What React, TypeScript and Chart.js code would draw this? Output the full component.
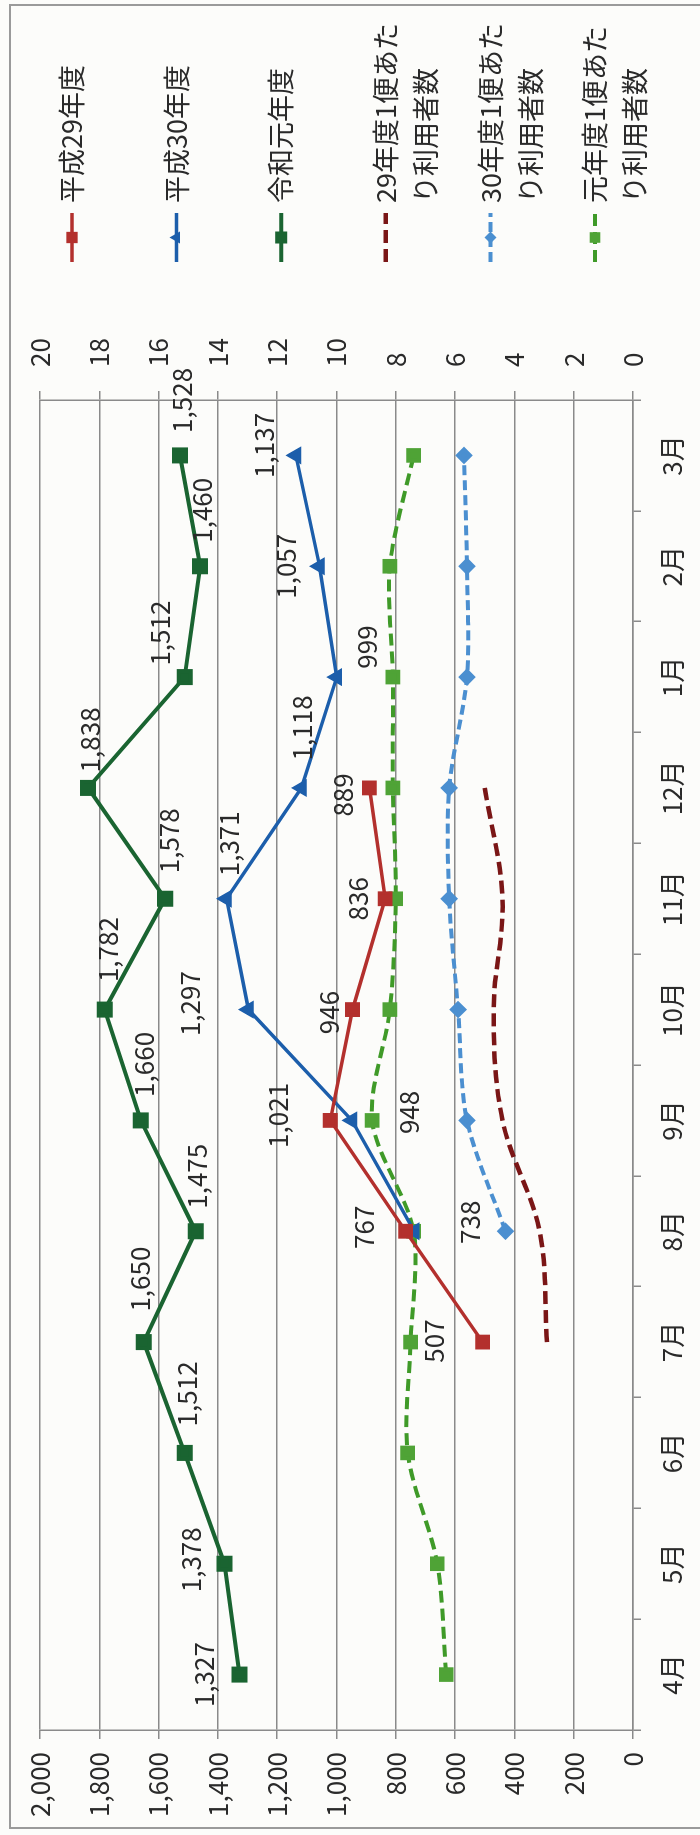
import React, { useEffect, useRef } from "react";
import { Chart, registerables } from "chart.js";

Chart.register(...registerables);

// ---------- data ----------
const months = ["4月", "5月", "6月", "7月", "8月", "9月", "10月", "11月", "12月", "1月", "2月", "3月"];

const seriesNames = [
  "平成29年度",
  "平成30年度",
  "令和元年度",
  "29年度1便あたり利用者数",
  "30年度1便あたり利用者数",
  "元年度1便あたり利用者数",
];

const usersH29 = [null, null, null, 507, 767, 1021, 946, 836, 889, null, null, null];
const usersH30 = [null, null, null, null, 738, 948, 1297, 1371, 1118, 999, 1057, 1137];
const usersR1 = [1327, 1378, 1512, 1650, 1475, 1660, 1782, 1578, 1838, 1512, 1460, 1528];

const perTripH29 = [null, null, null, 2.9, 3.15, 4.4, 4.7, 4.4, 5.0, null, null, null];
const perTripH30 = [null, null, null, null, 4.3, 5.6, 5.9, 6.2, 6.2, 5.6, 5.6, 5.7];
const perTripR1 = [6.3, 6.6, 7.6, 7.5, 7.4, 8.8, 8.2, 8.0, 8.1, 8.1, 8.2, 7.4];

const leftAxis = { min: 0, max: 2000, step: 200 };
const rightAxis = { min: 0, max: 20, step: 2 };

// ---------- styling ----------
const FONT = '"Noto Sans CJK JP", "Noto Sans", sans-serif';
const GRID = "#8a8a8a";
const TEXT = "#2a2a2a";

// label offsets (original, unrotated orientation) relative to each point
const labelOffsets: Record<number, (number[] | null)[]> = {
  0: [null, null, null, [1, -49], [4, -41], [5, -52], [-3, -23], [0, -27], [-7, -26], null, null, null],
  1: [null, null, null, null, [9, 56], [8, 57], [6, -58], [55, 3], [60, 1], [30, 30], [0, -33], [10, -32]],
  2: [[0, -35], [4, -33], [59, 2], [63, -4], [55, 1], [56, 3], [60, 3], [58, 4], [48, 2], [44, -25], [56, 2], [55, 2]],
};

const W = 1835;
const H = 700;

function drawMarker(ctx: CanvasRenderingContext2D, style: string, x: number, y: number, r: number, color: string) {
  ctx.save();
  ctx.fillStyle = color;
  ctx.beginPath();
  if (style === "rect") {
    const s = r * Math.SQRT1_2;
    ctx.rect(x - s, y - s, 2 * s, 2 * s);
  } else if (style === "rectRot") {
    ctx.moveTo(x, y - r);
    ctx.lineTo(x + r, y);
    ctx.lineTo(x, y + r);
    ctx.lineTo(x - r, y);
    ctx.closePath();
  } else if (style === "triangle") {
    ctx.moveTo(x, y - r);
    ctx.lineTo(x + r * 0.866, y + r * 0.5);
    ctx.lineTo(x - r * 0.866, y + r * 0.5);
    ctx.closePath();
  }
  ctx.fill();
  ctx.restore();
}

const dataLabelPlugin = {
  id: "dataLabelsCustom",
  afterDatasetsDraw(chart: any) {
    const ctx = chart.ctx as CanvasRenderingContext2D;
    ctx.save();
    ctx.font = `26px ${FONT}`;
    ctx.fillStyle = TEXT;
    ctx.textAlign = "center";
    ctx.textBaseline = "middle";
    chart.data.datasets.forEach((ds: any, di: number) => {
      const offs = labelOffsets[di];
      if (!offs) return;
      const meta = chart.getDatasetMeta(di);
      meta.data.forEach((pt: any, i: number) => {
        const v = ds.data[i];
        if (v == null) return;
        const o = offs[i] || [0, -35];
        ctx.fillText(Number(v).toLocaleString("en-US"), pt.x + o[0], pt.y + o[1]);
      });
    });
    ctx.restore();
  },
};

const legendAndFramePlugin = {
  id: "legendFrame",
  afterDraw(chart: any) {
    const ctx = chart.ctx as CanvasRenderingContext2D;
    // outer frame
    ctx.save();
    ctx.strokeStyle = "#9a9a9a";
    ctx.lineWidth = 2;
    ctx.beginPath();
    ctx.moveTo(7, H);
    ctx.lineTo(7, 10);
    ctx.lineTo(1830, 10);
    ctx.lineTo(1830, H);
    ctx.stroke();
    ctx.restore();

    // legend
    const y0 = 72;
    const gap = 104.6;
    const sx0 = 1573;
    const sx1 = 1622;
    const tx = 1632;
    const maxW = 195;
    const lineGap = 40;
    chart.data.datasets.forEach((ds: any, i: number) => {
      const y = y0 + i * gap;
      ctx.save();
      ctx.strokeStyle = ds.borderColor;
      ctx.lineWidth = ds.borderWidth;
      ctx.setLineDash(ds.borderDash || []);
      ctx.beginPath();
      ctx.moveTo(sx0, y);
      ctx.lineTo(sx1, y);
      ctx.stroke();
      ctx.setLineDash([]);
      if (ds.pointRadius > 0) {
        drawMarker(ctx, ds.pointStyle, (sx0 + sx1) / 2, y, ds.pointRadius, ds.pointBackgroundColor);
      }
      ctx.font = `27px ${FONT}`;
      ctx.fillStyle = TEXT;
      ctx.textAlign = "left";
      ctx.textBaseline = "middle";
      const lines: string[] = [];
      let cur = "";
      for (const ch of ds.label as string) {
        if (ctx.measureText(cur + ch).width > maxW && cur) {
          lines.push(cur);
          cur = ch;
        } else cur += ch;
      }
      if (cur) lines.push(cur);
      lines.forEach((ln, k) => ctx.fillText(ln, tx, y + k * lineGap));
      ctx.restore();
    });
  },
};

export default function App() {
  const ref = useRef<HTMLCanvasElement | null>(null);

  useEffect(() => {
    if (!ref.current) return;
    Chart.defaults.font.family = FONT;
    const chart = new Chart(ref.current, {
      type: "line",
      data: {
        labels: months,
        datasets: [
          {
            label: seriesNames[0],
            data: usersH29,
            yAxisID: "y",
            borderColor: "#b3302d",
            backgroundColor: "#b3302d",
            pointBackgroundColor: "#b3302d",
            pointBorderColor: "#b3302d",
            borderWidth: 3.5,
            pointStyle: "rect",
            pointRadius: 8,
            tension: 0,
          },
          {
            label: seriesNames[1],
            data: usersH30,
            yAxisID: "y",
            borderColor: "#1c5eab",
            backgroundColor: "#1c5eab",
            pointBackgroundColor: "#1c5eab",
            pointBorderColor: "#1c5eab",
            borderWidth: 3.5,
            pointStyle: "triangle",
            pointRadius: 7,
            tension: 0,
          },
          {
            label: seriesNames[2],
            data: usersR1,
            yAxisID: "y",
            borderColor: "#1a6431",
            backgroundColor: "#1a6431",
            pointBackgroundColor: "#1a6431",
            pointBorderColor: "#1a6431",
            borderWidth: 4,
            pointStyle: "rect",
            pointRadius: 8.5,
            tension: 0,
          },
          {
            label: seriesNames[3],
            data: perTripH29,
            yAxisID: "y1",
            borderColor: "#7a1616",
            backgroundColor: "#7a1616",
            pointBackgroundColor: "#7a1616",
            borderWidth: 4.5,
            borderDash: [13, 6],
            pointRadius: 0,
            pointStyle: "circle",
            tension: 0.35,
          },
          {
            label: seriesNames[4],
            data: perTripH30,
            yAxisID: "y1",
            borderColor: "#4b8fd0",
            backgroundColor: "#4b8fd0",
            pointBackgroundColor: "#4b8fd0",
            pointBorderColor: "#4b8fd0",
            borderWidth: 4,
            borderDash: [10, 5],
            pointStyle: "rectRot",
            pointRadius: 6,
            tension: 0.3,
          },
          {
            label: seriesNames[5],
            data: perTripR1,
            yAxisID: "y1",
            borderColor: "#3f9a28",
            backgroundColor: "#4fa336",
            pointBackgroundColor: "#4fa336",
            pointBorderColor: "#4fa336",
            borderWidth: 4,
            borderDash: [12, 6],
            pointStyle: "rect",
            pointRadius: 7.5,
            tension: 0.3,
          },
        ] as any,
      },
      options: {
        responsive: false,
        animation: false,
        events: [],
        layout: { padding: { left: 0, top: 40, right: 300, bottom: 0 } },
        plugins: {
          legend: { display: false },
          tooltip: { enabled: false },
          title: { display: false },
        },
        scales: {
          x: {
            type: "category",
            offset: true,
            grid: {
              offset: true,
              drawOnChartArea: false,
              drawTicks: true,
              tickLength: 8,
              color: GRID,
              lineWidth: 1.5,
            },
            border: { display: true, color: GRID, width: 1.5 },
            ticks: { color: TEXT, font: { size: 26, family: FONT }, padding: 16, maxRotation: 0, autoSkip: false },
            afterFit: (s: any) => {
              s.height = 67;
            },
          },
          y: {
            position: "left",
            min: leftAxis.min,
            max: leftAxis.max,
            grid: { color: GRID, lineWidth: 1.5, tickLength: 9, drawTicks: true },
            border: { display: true, color: GRID, width: 1.5 },
            ticks: {
              stepSize: leftAxis.step,
              color: TEXT,
              font: { size: 26, family: FONT },
              padding: 13,
              callback: (v: any) => Number(v).toLocaleString("en-US"),
            },
            afterFit: (s: any) => {
              s.width = 105;
            },
          },
          y1: {
            position: "right",
            min: rightAxis.min,
            max: rightAxis.max,
            grid: { drawOnChartArea: false, color: GRID, lineWidth: 1.5, tickLength: 9, drawTicks: true },
            border: { display: true, color: GRID, width: 1.5 },
            ticks: {
              stepSize: rightAxis.step,
              color: TEXT,
              font: { size: 26, family: FONT },
              padding: 24,
              callback: (v: any) => String(v),
            },
            afterFit: (s: any) => {
              s.width = 100;
            },
          },
        },
      },
      plugins: [dataLabelPlugin, legendAndFramePlugin],
    });
    return () => chart.destroy();
  }, []);

  return (
    <div
      style={{
        position: "absolute",
        left: 0,
        top: 0,
        width: 700,
        height: 1835,
        overflow: "hidden",
        background: "#fcfcfa",
      }}
    >
      <div
        style={{
          position: "absolute",
          left: 0,
          top: 0,
          width: W,
          height: H,
          transformOrigin: "0 0",
          transform: `translateY(${W}px) rotate(-90deg)`,
        }}
      >
        <canvas ref={ref} width={W} height={H} style={{ display: "block", width: W, height: H }} />
      </div>
    </div>
  );
}
